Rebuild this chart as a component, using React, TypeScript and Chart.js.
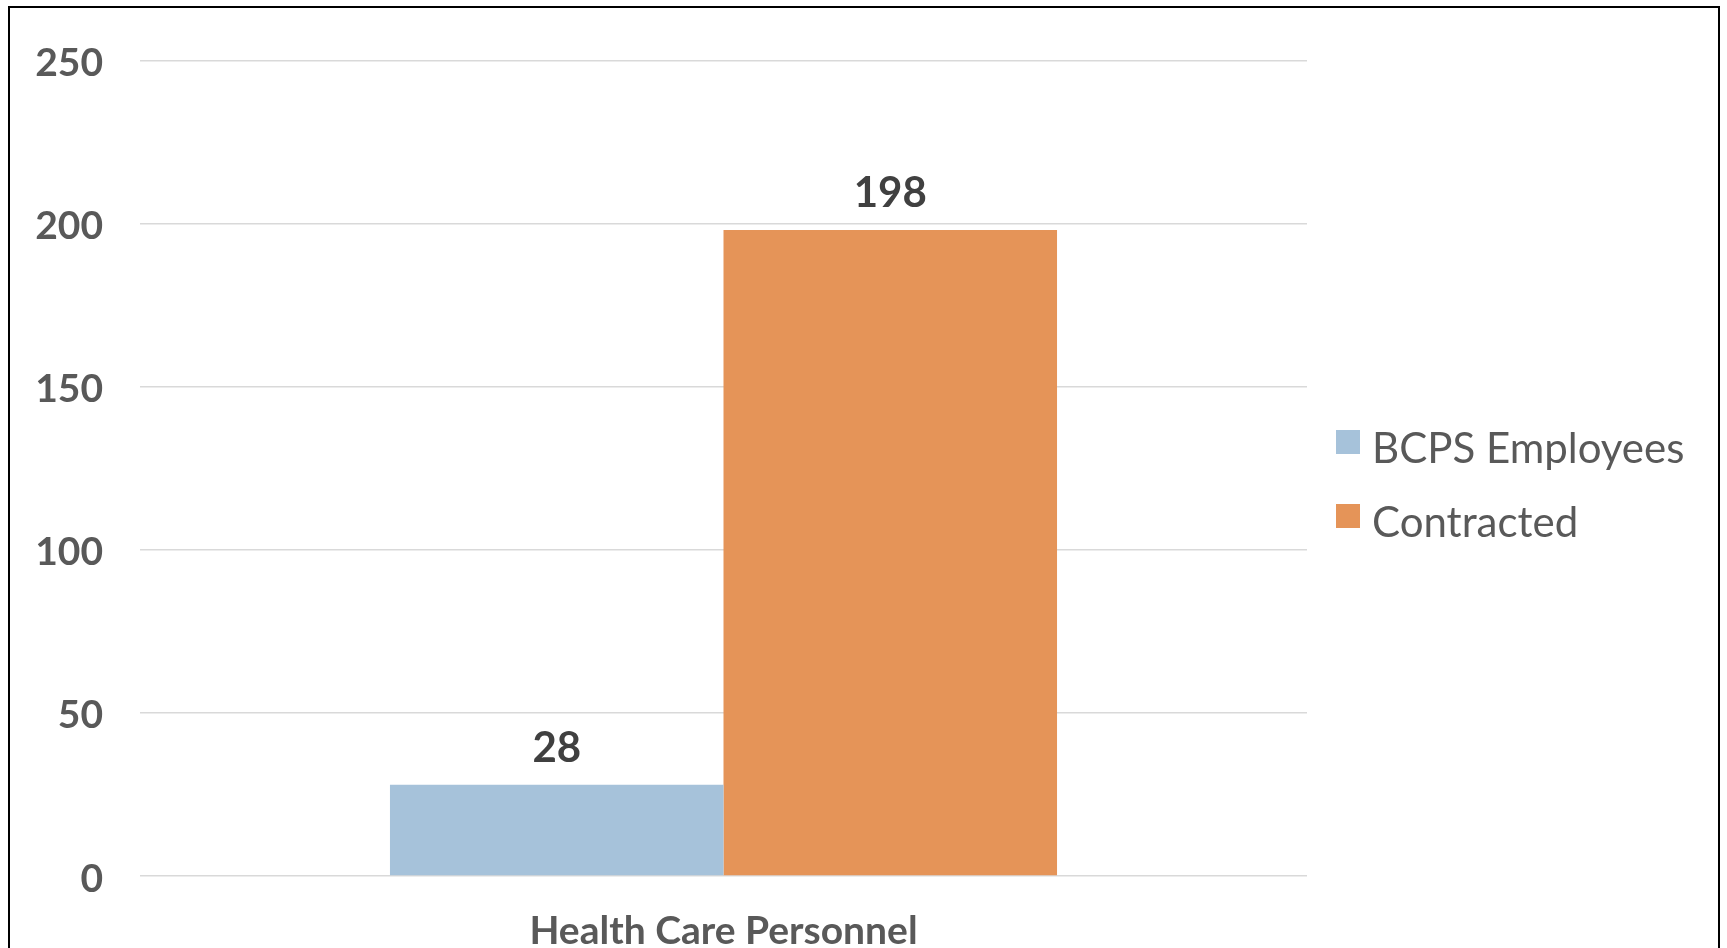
import React, { useEffect, useRef } from "react";
import { Chart, registerables } from "chart.js";

Chart.register(...registerables);

const categories = ["Health Care Personnel"];
const seriesNames = ["BCPS Employees", "Contracted"];
const bcpsValues = [28];
const contractedValues = [198];
const yTicks = [0, 50, 100, 150, 200, 250];

const FONT = "Lato, 'Noto Sans', sans-serif";

const dataLabelPlugin = {
  id: "dataLabels",
  afterDatasetsDraw(chart: any) {
    const ctx = chart.ctx;
    ctx.save();
    ctx.font = `bold 42px ${FONT}`;
    ctx.fillStyle = "#404040";
    ctx.textAlign = "center";
    ctx.textBaseline = "alphabetic";
    chart.data.datasets.forEach((ds: any, di: number) => {
      const meta = chart.getDatasetMeta(di);
      meta.data.forEach((bar: any, i: number) => {
        ctx.fillText(String(ds.data[i]), bar.x, bar.y - 23);
      });
    });
    ctx.restore();
  },
};

// Legend drawn from the chart's datasets, placed to the right of the plot area
const sideLegendPlugin = {
  id: "sideLegend",
  afterDraw(chart: any) {
    const ctx = chart.ctx;
    const area = chart.chartArea;
    const boxX = area.right + 29;
    const firstTop = 430;
    const rowGap = 74;
    const box = 24;
    ctx.save();
    ctx.font = `42px ${FONT}`;
    ctx.textAlign = "left";
    ctx.textBaseline = "alphabetic";
    chart.data.datasets.forEach((ds: any, i: number) => {
      const top = firstTop + i * rowGap;
      ctx.fillStyle = ds.backgroundColor;
      ctx.fillRect(boxX, top, box, box);
      ctx.fillStyle = "#595959";
      ctx.fillText(ds.label, boxX + box + 12, top + 33);
    });
    ctx.restore();
  },
};

export default function App() {
  const canvasRef = useRef<HTMLCanvasElement | null>(null);

  useEffect(() => {
    const canvas = canvasRef.current;
    if (!canvas) return;
    const chart = new Chart(canvas, {
      type: "bar",
      data: {
        labels: categories,
        datasets: [
          {
            label: seriesNames[0],
            data: bcpsValues,
            backgroundColor: "#A6C2DA",
            borderWidth: 0,
          },
          {
            label: seriesNames[1],
            data: contractedValues,
            backgroundColor: "#E59458",
            borderWidth: 0,
          },
        ],
      },
      options: {
        responsive: false,
        animation: false,
        devicePixelRatio: 1,
        layout: { padding: { top: 57, left: 0, right: 420, bottom: 0 } },
        datasets: {
          bar: { categoryPercentage: 0.5716, barPercentage: 1 },
        },
        scales: {
          x: {
            grid: { display: false },
            border: { display: false },
            ticks: {
              color: "#595959",
              font: { family: FONT, size: 39, weight: "bold" },
              padding: 24,
            },
            afterFit(scale: any) {
              scale.height = 72;
            },
          },
          y: {
            min: 0,
            max: 250,
            afterBuildTicks(scale: any) {
              scale.ticks = yTicks.map((v) => ({ value: v }));
            },
            grid: { color: "#D9D9D9", lineWidth: 1.6, drawTicks: false },
            border: { display: false },
            ticks: {
              color: "#595959",
              font: { family: FONT, size: 39, weight: "bold" },
              padding: 37,
              labelOffset: 3,
            },
            afterFit(scale: any) {
              scale.width = 140;
            },
          },
        },
        plugins: {
          legend: { display: false },
          tooltip: { enabled: false },
        },
      } as any,
      plugins: [dataLabelPlugin, sideLegendPlugin],
    });
    return () => chart.destroy();
  }, []);

  return (
    <div style={{ position: "fixed", left: 0, top: 0, width: 1727, height: 948, background: "#fff", overflow: "hidden" }}>
      <canvas
        ref={canvasRef}
        width={1727}
        height={948}
        style={{ position: "absolute", left: 0, top: 0, width: 1727, height: 948 }}
      />
      <div
        style={{
          position: "absolute",
          left: 8,
          top: 6,
          width: 1712,
          height: 960,
          border: "2px solid #000",
          boxSizing: "border-box",
          pointerEvents: "none",
        }}
      />
    </div>
  );
}
